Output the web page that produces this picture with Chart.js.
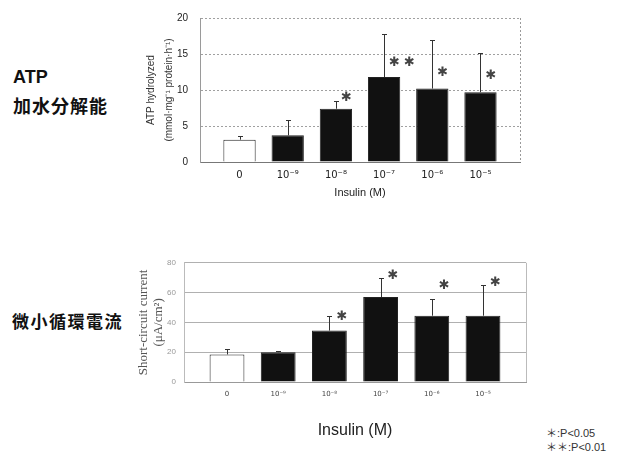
<!DOCTYPE html>
<html><head><meta charset="utf-8">
<script src="https://cdn.jsdelivr.net/npm/chart.js@4/dist/chart.umd.min.js"></script>
<style>
html,body{margin:0;padding:0;background:#fff;width:618px;height:452px;overflow:hidden;}
.lbl{position:absolute;font-family:"Liberation Sans","Noto Sans CJK JP",sans-serif;font-weight:bold;color:#111;white-space:nowrap;}
#c1{position:absolute;left:140px;top:0px;}
#c2{position:absolute;left:130px;top:250px;}
.leg{position:absolute;left:546px;font-family:"Liberation Sans","Noto Sans CJK JP",sans-serif;font-size:11px;color:#333;white-space:nowrap;}
</style></head>
<body>
<div class="lbl" style="left:13px;top:67px;font-size:18px;">ATP</div>
<div class="lbl" style="left:13px;top:92px;font-size:18px;letter-spacing:1px;font-family:'Noto Sans CJK JP',sans-serif;">加水分解能</div>
<div class="lbl" style="left:12px;top:308px;font-size:17px;letter-spacing:1.5px;font-family:'Noto Sans CJK JP',sans-serif;">微小循環電流</div>
<div class="leg" style="top:424px;">＊:P&lt;0.05</div>
<div class="leg" style="top:438px;">＊＊:P&lt;0.01</div>
<canvas id="c1" width="400" height="200"></canvas>
<canvas id="c2" width="410" height="190"></canvas>
<script>
const categories = ['0','10⁻⁹','10⁻⁸','10⁻⁷','10⁻⁶','10⁻⁵'];
const atpValues = [3.1, 3.7, 7.4, 11.8, 10.2, 9.7];
const atpErrTop = [3.6, 5.9, 8.5, 17.8, 17.0, 15.1];
const atpStars = ['', '', '✱', '✱ ✱', '✱', '✱'];
const atpStarY = [null, null, 9.0, 13.8, 12.4, 12.0];
const scValues = [18.5, 20, 34.5, 57, 44.5, 44.5];
const scErrTop = [22, 21, 44, 70, 55.5, 65];
const scStars = ['', '', '✱', '✱', '✱', '✱'];
const scStarY = [null, null, 43.6, 71.4, 64.8, 66.8];
const atpTicks = [0, 5, 10, 15, 20];
const scTicks = [0, 20, 40, 60, 80];

function makeChart(id, cfg) {
  const barColors = cfg.values.map((v, i) => i === 0 ? '#ffffff' : '#111111');
  const errPlugin = {
    id: 'err' + id,
    afterDatasetsDraw(chart) {
      const ctx = chart.ctx, xs = chart.scales.x, ys = chart.scales.y, a = chart.chartArea;
      ctx.save();
      ctx.strokeStyle = cfg.frameColor; ctx.lineWidth = 1; ctx.setLineDash(cfg.frameDash);
      ctx.beginPath();
      ctx.moveTo(Math.round(a.right) + 0.5, a.top); ctx.lineTo(Math.round(a.right) + 0.5, a.bottom);
      ctx.stroke();
      ctx.setLineDash([]);
      ctx.strokeStyle = '#333'; ctx.lineWidth = 1;
      cfg.values.forEach((v, i) => {
        const x = Math.round(xs.getPixelForValue(i)) + 0.5;
        const y0 = ys.getPixelForValue(v);
        const y1 = Math.round(ys.getPixelForValue(cfg.errTop[i])) + 0.5;
        ctx.beginPath();
        ctx.moveTo(x, y0); ctx.lineTo(x, y1);
        ctx.moveTo(x - 2.5, y1); ctx.lineTo(x + 2.5, y1);
        ctx.stroke();
      });
      ctx.fillStyle = '#444';
      ctx.font = cfg.starFont;
      ctx.textAlign = 'left'; ctx.textBaseline = 'middle';
      cfg.stars.forEach((s, i) => {
        if (!s) return;
        ctx.fillText(s, xs.getPixelForValue(i) + cfg.starDx, ys.getPixelForValue(cfg.starY[i]));
      });
      ctx.restore();
    }
  };
  return new Chart(document.getElementById(id), {
    type: 'bar',
    data: {
      datasets: [{
        data: cfg.values.map((v, i) => ({x: i, y: v})),
        backgroundColor: barColors,
        borderColor: '#222',
        borderWidth: 1,
        barPercentage: cfg.barPct,
        categoryPercentage: 1
      }]
    },
    options: {
      responsive: false,
      animation: false,
      events: [],
      layout: {padding: cfg.padding},
      plugins: {legend: {display: false}, tooltip: {enabled: false}},
      scales: {
        x: {
          type: 'linear',
          min: cfg.xmin, max: cfg.xmax,
          offset: false,
          afterBuildTicks(s) { s.ticks = categories.map((c, i) => ({value: i})); },
          afterFit(s) { s.height = cfg.xHeight; },
          grid: {display: false, drawTicks: false},
          border: {display: true, color: cfg.axisColor, dash: cfg.frameDash},
          ticks: {
            callback: (v) => categories[v],
            color: cfg.xTickColor, font: cfg.xTickFont, padding: cfg.xTickPad,
            maxRotation: 0, autoSkip: false
          },
          title: {display: true, text: 'Insulin (M)', color: '#222', font: cfg.xTitleFont, padding: cfg.xTitlePad}
        },
        y: {
          min: 0, max: cfg.ymax,
          afterBuildTicks(s) { s.ticks = cfg.yTicks.map(v => ({value: v})); },
          afterFit(s) { s.width = cfg.yWidth; },
          grid: {color: cfg.gridColor, drawTicks: false, tickLength: 0},
          border: {display: true, color: cfg.frameColor, dash: cfg.frameDash},
          ticks: {color: cfg.yTickColor, font: cfg.yTickFont, padding: cfg.yTickPad},
          title: {display: true, text: cfg.yTitle, color: cfg.yTitleColor, font: cfg.yTitleFont, padding: {top: 0, bottom: 0}}
        }
      }
    },
    plugins: [errPlugin]
  });
}

makeChart('c1', {
  values: atpValues, errTop: atpErrTop, stars: atpStars, starY: atpStarY,
  xmin: -0.82, xmax: 5.82, ymax: 20, yTicks: atpTicks,
  padding: {top: 17, right: 20, left: 2, bottom: 0},
  xHeight: 38, yWidth: 58, barPct: 0.67,
  frameColor: '#9a9a9a', frameDash: [2, 2], axisColor: '#777', gridColor: '#a0a0a0',
  xTickColor: '#222', xTickFont: {family: 'DejaVu Sans', size: 10}, xTickPad: 7,
  xTitleFont: {family: 'Liberation Sans', size: 11}, xTitlePad: {top: 2, bottom: 0},
  yTickColor: '#222', yTickFont: {family: 'Liberation Sans', size: 10}, yTickPad: 12,
  yTitle: ['ATP hydrolyzed', '(mmol·mg⁻¹ protein·h⁻¹)'], yTitleColor: '#333',
  yTitleFont: {family: 'Liberation Sans', size: 10, lineHeight: 1.8},
  starFont: '13px "DejaVu Sans"', starDx: 5
});

makeChart('c2', {
  values: scValues, errTop: scErrTop, stars: scStars, starY: scStarY,
  xmin: -0.84, xmax: 5.84, ymax: 80, yTicks: scTicks,
  padding: {top: 11, right: 14, left: 6, bottom: 0},
  xHeight: 58, yWidth: 48, barPct: 0.68,
  frameColor: '#bbbbbb', frameDash: [], axisColor: '#999', gridColor: '#b0b0b0',
  xTickColor: '#444', xTickFont: {family: 'DejaVu Sans', size: 7}, xTickPad: 8,
  xTitleFont: {family: 'Liberation Sans', size: 16}, xTitlePad: {top: 16, bottom: 0},
  yTickColor: '#999', yTickFont: {family: 'Liberation Sans', size: 8}, yTickPad: 8,
  yTitle: ['Short-circuit current', '(μA/cm²)'], yTitleColor: '#555',
  yTitleFont: {family: 'Liberation Serif', size: 13, lineHeight: 1.15},
  starFont: '13px "DejaVu Sans"', starDx: 7
});
</script>
</body></html>
